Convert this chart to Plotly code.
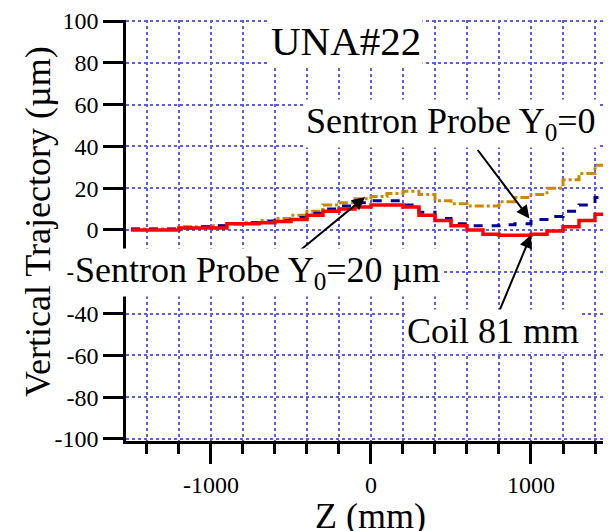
import plotly.graph_objects as go

z_mm = [-1500, -1400, -1300, -1200, -1100, -1000, -900, -800, -700, -600, -500,
        -400, -300, -200, -100, 0, 100, 200, 300, 400, 500, 600, 700, 800, 900,
        1000, 1100, 1200, 1300, 1400, 1500]
coil_81mm = [0, 0, 0, 1, 1, 1, 3, 3, 3.5, 4, 5, 7, 9, 10, 11, 12, 12, 11, 7, 4.5,
             2, 0, -2, -2.5, -2.5, -2, -0.5, 1.5, 4.5, 7.5, 9.5]
sentron_y0_0 = [0.5, 0.5, 0.5, 1, 1.5, 2, 3, 3.5, 4, 4.5, 6, 8, 10, 11.5, 13, 14,
                14, 12, 8.5, 5.5, 3, 2, 2, 2.5, 3, 5, 6.5, 9, 12, 15.5, 17]
sentron_y0_20 = [0.5, 0.5, 0.5, 1.5, 1.5, 2, 3, 3.5, 4.5, 5.5, 7, 9, 12, 13, 15, 16,
                 17.5, 18.5, 17, 14, 12.5, 11.5, 11.5, 13.5, 15.5, 17, 20, 24, 27,
                 31, 32.5]

y_ticks = [-100, -80, -60, -40, -20, 0, 20, 40, 60, 80, 100]
x_ticks = [-1000, 0, 1000]

FONT = "serif"
GRID = "rgb(90,90,255)"

fig = go.Figure()
fig.add_trace(go.Scatter(x=z_mm, y=sentron_y0_20, mode="lines", line_shape="hv",
                         line=dict(color="rgb(204,136,0)", width=3, dash="dashdot"),
                         showlegend=False))
fig.add_trace(go.Scatter(x=z_mm, y=sentron_y0_0, mode="lines", line_shape="hv",
                         line=dict(color="rgb(0,0,150)", width=3, dash="dash"),
                         showlegend=False))
fig.add_trace(go.Scatter(x=z_mm, y=coil_81mm, mode="lines", line_shape="hv",
                         line=dict(color="rgb(255,0,0)", width=3.5),
                         showlegend=False))

fig.update_layout(
    template="none",
    width=611, height=531,
    margin=dict(l=118, r=0, t=12, b=98),
    paper_bgcolor="white", plot_bgcolor="white",
    font=dict(family=FONT, color="black", size=24),
    xaxis=dict(
        range=[-1531, 1550], tickvals=x_ticks, ticktext=[str(v) for v in x_ticks],
        ticks="outside", ticklen=20, tickwidth=2.5, tickcolor="black",
        showline=True, linecolor="black", linewidth=2.5,
        showgrid=True, gridcolor=GRID, griddash="dot", gridwidth=2,
        zeroline=False,
        minor=dict(dtick=200, tick0=0, ticks="outside", ticklen=10, tickwidth=2.5,
                   tickcolor="black", showgrid=True, gridcolor=GRID,
                   griddash="dot", gridwidth=2),
        tickfont=dict(family=FONT, size=24, color="black"),
        automargin=False,
    ),
    yaxis=dict(
        range=[-101, 100.5], tickvals=y_ticks, ticktext=[str(v) for v in y_ticks],
        ticks="outside", ticklen=20, tickwidth=2.5, tickcolor="black",
        showline=True, linecolor="black", linewidth=2.5,
        showgrid=True, gridcolor=GRID, griddash="dot", gridwidth=2,
        zeroline=False, ticklabeloverflow="allow",
        tickfont=dict(family=FONT, size=24, color="black"),
        automargin=False,
    ),
)

# axis titles
fig.add_annotation(x=0.495, y=-0.178, xref="paper", yref="paper", text="Z (mm)",
                   xanchor="center", yanchor="middle",
                   showarrow=False, font=dict(family=FONT, size=36, color="black"))
fig.add_annotation(x=-0.1785, y=0.5226, xref="paper", yref="paper",
                   text="Vertical Trajectory (µm)", textangle=-90,
                   xanchor="center", yanchor="middle",
                   showarrow=False, font=dict(family=FONT, size=36, color="black"))

# arrows
arrows = [
    dict(x=990, y=5.5, ax=660, ay=39),
    dict(x=-37, y=15.8, ax=-495, ay=-13),
    dict(x=1000, y=-2.4, ax=790, ay=-41),
]
for a in arrows:
    fig.add_annotation(x=a["x"], y=a["y"], ax=a["ax"], ay=a["ay"], xref="x", yref="y",
                       axref="x", ayref="y", text="", showarrow=True,
                       arrowhead=2, arrowsize=1.3, arrowwidth=2, arrowcolor="black")

labels = [
    dict(text="UNA#22", x=-640, xref="x", y=90.5, size=41),
    dict(text="Sentron Probe Y<sub>0</sub>=0", x=-420, xref="x", y=51, size=36),
    dict(text="Sentron Probe Y<sub>0</sub>=20 µm", x=-0.1075, xref="paper", y=-20.5,
         size=36),
    dict(text="Coil 81 mm", x=215, xref="x", y=-48.5, size=36),
]
for l in labels:
    fig.add_annotation(x=l["x"], y=l["y"], xref=l["xref"], yref="y", text=l["text"],
                       xanchor="left", yanchor="middle", showarrow=False,
                       bgcolor="white", borderpad=1,
                       font=dict(family=FONT, size=l["size"], color="black"))

fig.write_html("out.html")
